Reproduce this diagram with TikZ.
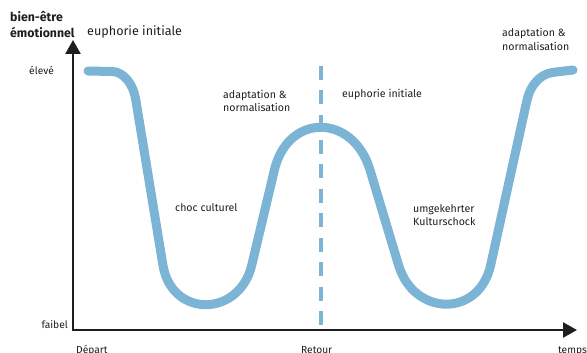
\documentclass[tikz,border=0pt]{standalone}
\usepackage{fontspec}
\setmainfont{Fira Sans}
\usetikzlibrary{arrows.meta,calc}
\definecolor{curveblue}{RGB}{123,180,212}
\definecolor{ink}{RGB}{30,30,30}
\begin{document}
\begin{tikzpicture}[x=1pt,y=-1pt,
  lbl/.style={inner sep=0pt, anchor=west, align=left, text=ink,
    font=\fontsize{10.6}{13.8}\selectfont},
  biglbl/.style={inner sep=0pt, anchor=west, align=left, text=ink,
    font=\fontsize{12.6}{14}\selectfont},
  titlelbl/.style={inner sep=0pt, anchor=west, align=left, text=ink,
    font=\bfseries\fontsize{12.3}{16}\selectfont},
  axlbl/.style={inner sep=0pt, anchor=west, text=ink,
    font=\fontsize{10.2}{12}\selectfont},
  axis/.style={line width=2.6pt, draw=ink,
    {Triangle[width=15pt,length=14pt]}-{Triangle[width=15pt,length=14pt]}},
  curve/.style={line width=9pt, draw=curveblue, line cap=round, line join=round},
  divider/.style={line width=4pt, draw=curveblue, dash pattern=on 14pt off 10.5pt}]
\useasboundingbox (0,0) rectangle (587,353);

% axes
\coordinate (ytip) at (73,40);
\coordinate (O) at (73,330);
\coordinate (xtip) at (577,330);
\draw[axis] (ytip) -- (O) -- (xtip);

% divider
\coordinate (dtop) at (321,66);
\coordinate (dbot) at (321,327);
\draw[divider] (dtop) -- (dbot);

% curve
\coordinate (s) at (88,71);
\coordinate (a1) at (112,71.5);
\coordinate (a2) at (135.8,100);
\coordinate (b1) at (162.9,265);
\coordinate (b2) at (251.8,265);
\coordinate (c1) at (274.4,170);
\coordinate (c2) at (370,170);
\coordinate (d1) at (398.5,265);
\coordinate (d2) at (490.7,265);
\coordinate (f1) at (527,100);
\coordinate (f2) at (552.4,72.5);
\coordinate (e) at (573,70);
\draw[curve] (s) -- (a1)
  .. controls (123.4,71.8) and (133.1,83.2) .. (a2)
  -- (b1)
  .. controls (171.6,318.3) and (239.3,317.5) .. (b2)
  -- (c1)
  .. controls (288.0,112.6) and (353.1,113.5) .. (c2)
  -- (d1)
  .. controls (414.0,316.7) and (479.1,317.8) .. (d2)
  -- (f1)
  .. controls (530.3,85) and (540.5,74) .. (f2)
  -- (e);

% labels
\node[titlelbl] (ylab) at (10,25) {bien-être\\émotionnel};
\node[biglbl] (eu1) at (87,32) {euphorie initiale};
\node[axlbl, anchor=east] (hi) at (54,70) {élevé};
\node[axlbl, anchor=east] (lo) at (68,325) {faibel};
\node[lbl] (ad1) at (223,101) {adaptation \&\\normalisation};
\node[lbl] (eu2) at (342,94) {euphorie initiale};
\node[lbl] (choc) at (175,208) {choc culturel};
\node[lbl] (umg) at (413,215) {umgekehrter\\Kulturschock};
\node[lbl] (ad2) at (502,39.5) {adaptation \&\\normalisation};
\node[axlbl, anchor=base west] (dep) at (76,353) {Départ};
\node[axlbl, anchor=base west] (ret) at (301,353) {Retour};
\node[axlbl, anchor=base west] (tmp) at (558,353) {temps};
\end{tikzpicture}
\end{document}
